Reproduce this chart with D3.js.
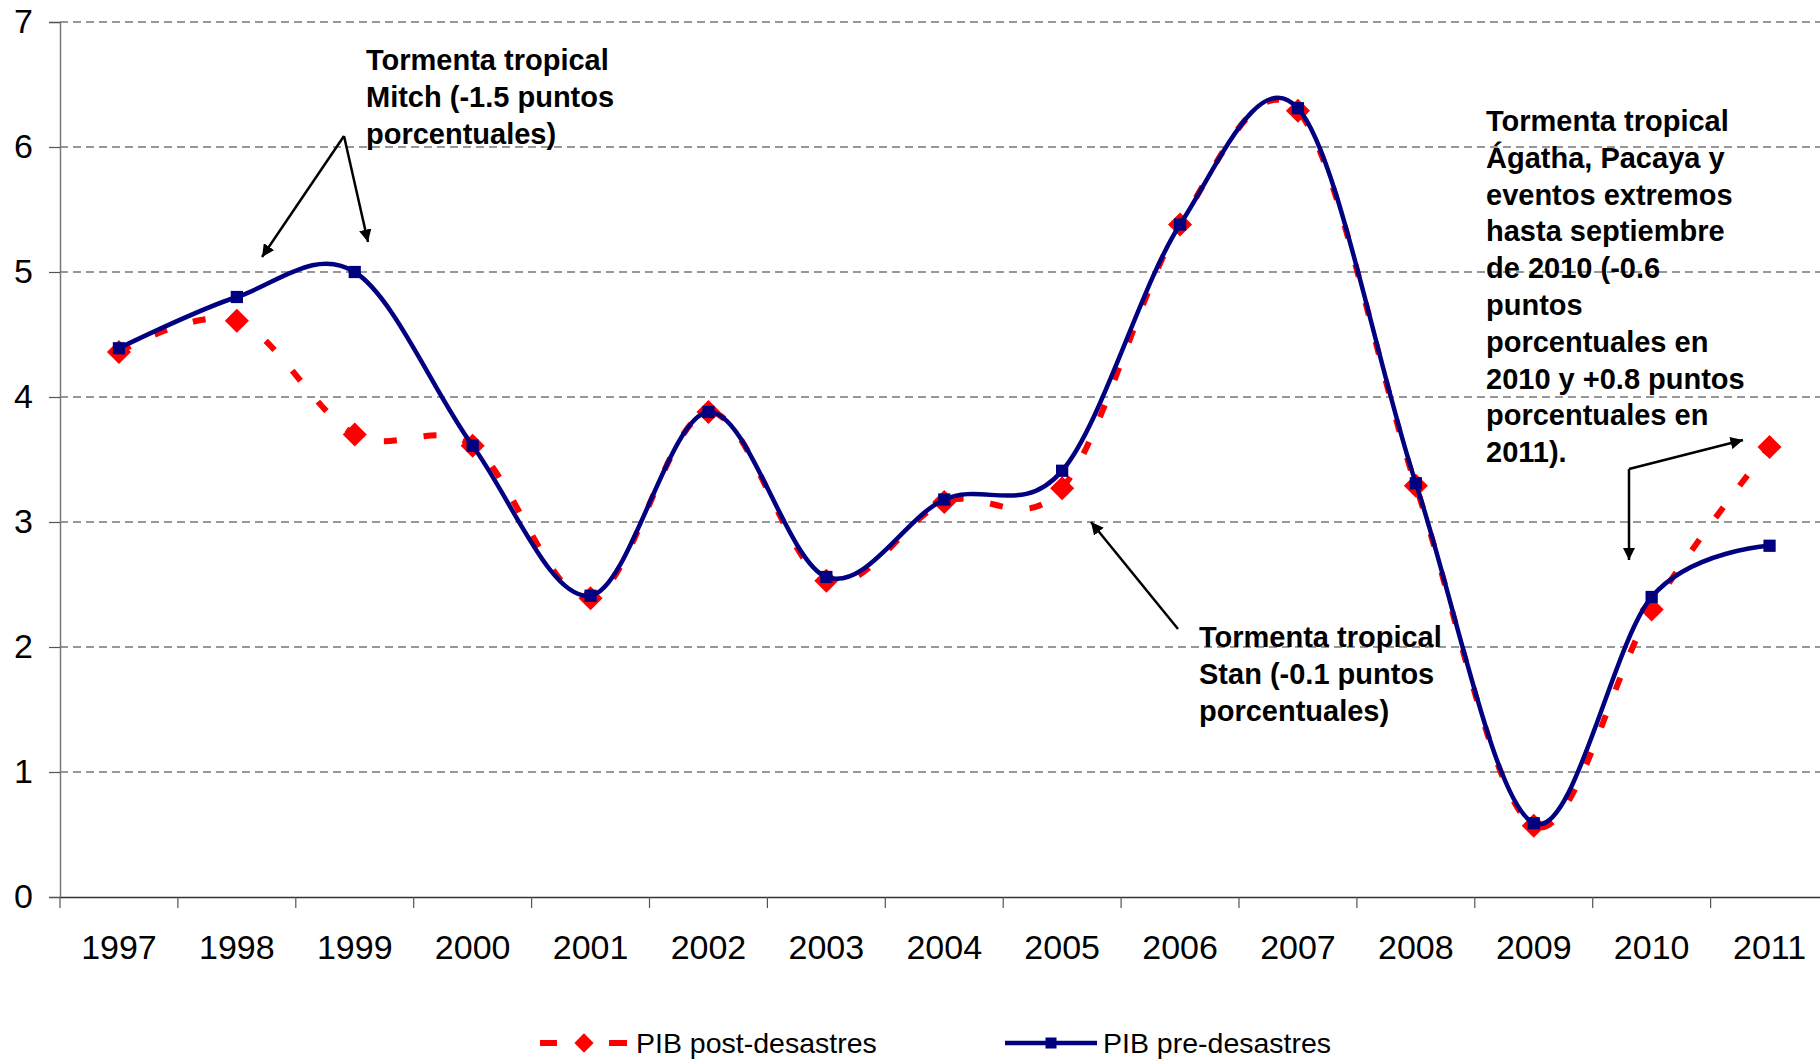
<!DOCTYPE html>
<html><head><meta charset="utf-8">
<script src="https://cdn.jsdelivr.net/npm/d3@7"></script>
<style>body{margin:0;background:#fff}svg{display:block}text{font-family:"Liberation Sans",Arial,sans-serif}</style>
</head><body>
<svg id="c" width="1820" height="1059"></svg>
<script>
const years = ['1997','1998','1999','2000','2001','2002','2003','2004','2005','2006','2007','2008','2009','2010','2011'];
const postValues = [4.36, 4.61, 3.70, 3.61, 2.39, 3.88, 2.53, 3.16, 3.27, 5.38, 6.29, 3.29, 0.57, 2.30, 3.60];
const preValues  = [4.39, 4.80, 5.00, 3.61, 2.41, 3.88, 2.56, 3.18, 3.41, 5.38, 6.31, 3.31, 0.59, 2.40, 2.81];
const yTicks = [0,1,2,3,4,5,6,7];
const seriesNames = ['PIB post-desastres','PIB pre-desastres'];
const notes = [
  {lines:['Tormenta tropical','Mitch (-1.5 puntos','porcentuales)'], x:366, y:70},
  {lines:['Tormenta tropical','Stan (-0.1 puntos','porcentuales)'], x:1199, y:647},
  {lines:['Tormenta tropical','Ágatha, Pacaya y','eventos extremos','hasta septiembre','de 2010 (-0.6','puntos','porcentuales en','2010 y +0.8 puntos','porcentuales en','2011).'], x:1486, y:131}
];

const svg = d3.select('#c');
const left = 60, band = 117.9;
const x = d3.scaleBand().domain(years).range([left, left + band*years.length]);
const y = d3.scaleLinear().domain([0,7]).range([897, 22]);
const cx = d => x(d) + x.bandwidth()/2;

// gridlines
svg.append('g').selectAll('line').data(yTicks.filter(t=>t>0)).join('line')
  .attr('x1', left).attr('x2', 1820).attr('y1', d=>y(d)).attr('y2', d=>y(d))
  .attr('stroke','#333').attr('stroke-width',1.2).attr('stroke-dasharray','8,5');

// y axis
const ya = svg.append('g').attr('transform',`translate(${left},0)`)
  .call(d3.axisLeft(y).tickValues(yTicks).tickSize(11).tickPadding(16).tickFormat(d3.format('d')));
ya.select('.domain').attr('stroke','#777').attr('stroke-width',1.5);
ya.selectAll('.tick line').attr('stroke','#555').attr('stroke-width',1.2);
ya.selectAll('.tick text').attr('font-size',34).attr('fill','#000').attr('font-family','"Liberation Sans",Arial,sans-serif');

// x axis
const xa = svg.append('g').attr('transform',`translate(0,${y(0)})`)
  .call(d3.axisBottom(x).tickSize(0).tickPadding(38));
xa.select('.domain').attr('stroke','#333').attr('stroke-width',1.5);
xa.selectAll('.tick text').attr('font-size',34).attr('fill','#000').attr('font-family','"Liberation Sans",Arial,sans-serif');
svg.append('g').selectAll('line').data(years.concat(['end'])).join('line')
  .attr('x1',(d,i)=>left+i*band).attr('x2',(d,i)=>left+i*band)
  .attr('y1',y(0)).attr('y2',y(0)+11).attr('stroke','#555').attr('stroke-width',1.2);

const curve = d3.curveCardinal.tension(0);
const line = d3.line().x((d,i)=>cx(years[i])).y(d=>y(d)).curve(curve);

// post (red dashed)
svg.append('path').attr('d', line(postValues)).attr('fill','none')
  .attr('stroke','#ff0000').attr('stroke-width',6).attr('stroke-dasharray','13,27');
const diamond = d3.symbol().type(d3.symbolSquare).size(290);
svg.append('g').selectAll('path').data(postValues).join('path')
  .attr('d', diamond).attr('fill','#ff0000')
  .attr('transform',(d,i)=>`translate(${cx(years[i])},${y(d)}) rotate(45)`);

// pre (blue solid)
svg.append('path').attr('d', line(preValues)).attr('fill','none')
  .attr('stroke','#000080').attr('stroke-width',4.5);
const square = d3.symbol().type(d3.symbolSquare).size(150);
svg.append('g').selectAll('path').data(preValues).join('path')
  .attr('d', square).attr('fill','#000080')
  .attr('transform',(d,i)=>`translate(${cx(years[i])},${y(d)})`);

// annotations
const ann = svg.append('g');
notes.forEach(n=>{
  const t = ann.append('text').attr('font-size',29).attr('font-weight','bold').attr('fill','#000');
  n.lines.forEach((l,i)=>t.append('tspan').attr('x',n.x).attr('y',n.y+i*36.8).text(l));
});
const defs = svg.append('defs');
defs.append('marker').attr('id','ah').attr('viewBox','0 0 10 10').attr('refX',10).attr('refY',5)
  .attr('markerWidth',5).attr('markerHeight',5).attr('orient','auto')
  .append('path').attr('d','M0,0 L10,5 L0,10 z').attr('fill','#000');
const arrows = [
  [[344,136],[262,257]],
  [[344,136],[368,242]],
  [[1178,629],[1091,522]],
  [[1629,469],[1629,560]],
  [[1629,469],[1743,440]]
];
ann.selectAll('line.ar').data(arrows).join('line').attr('class','ar')
  .attr('x1',d=>d[0][0]).attr('y1',d=>d[0][1]).attr('x2',d=>d[1][0]).attr('y2',d=>d[1][1])
  .attr('stroke','#000').attr('stroke-width',2.5).attr('marker-end','url(#ah)');

// legend
const lg = svg.append('g');
lg.append('line').attr('x1',540).attr('x2',557).attr('y1',1043).attr('y2',1043).attr('stroke','#ff0000').attr('stroke-width',6);
lg.append('line').attr('x1',609).attr('x2',627).attr('y1',1043).attr('y2',1043).attr('stroke','#ff0000').attr('stroke-width',6);
lg.append('path').attr('d',diamond).attr('fill','#ff0000').attr('transform','translate(584,1043) rotate(45) scale(0.8)');
lg.append('text').attr('x',636).attr('y',1053).attr('font-size',28.5).text(seriesNames[0]);
lg.append('line').attr('x1',1005).attr('x2',1097).attr('y1',1043).attr('y2',1043).attr('stroke','#000080').attr('stroke-width',4.5);
lg.append('path').attr('d',square).attr('fill','#000080').attr('transform','translate(1051,1043) scale(0.9)');
lg.append('text').attr('x',1103).attr('y',1053).attr('font-size',28.5).text(seriesNames[1]);
</script>
</body></html>
